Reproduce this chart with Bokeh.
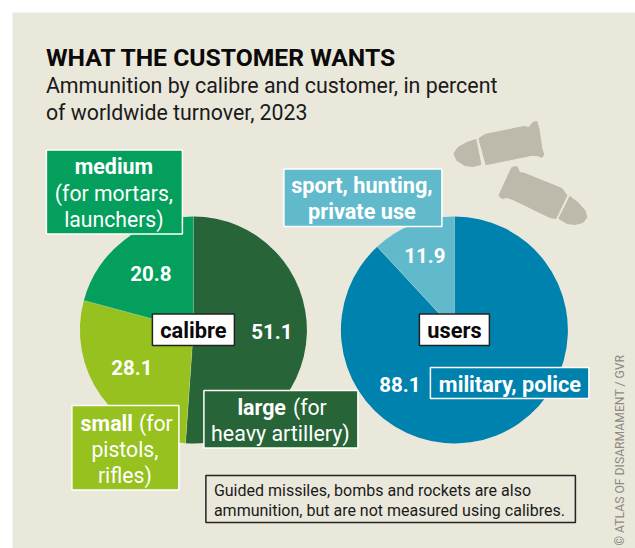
import math
from bokeh.plotting import figure
from bokeh.models import Range1d
from bokeh.embed import file_html
from bokeh.resources import INLINE
from bokeh.core.properties import value

# --- data
calibre_names = ["large", "small", "medium"]
calibre_values = [51.1, 28.1, 20.8]
users_names = ["military, police", "sport, hunting, private use"]
users_values = [88.1, 11.9]

# --- style
FONT = "Roboto"
BG = "#EAE8DB"
DARK = "#276539"
LIME = "#96C11E"
GREEN = "#049F5C"
BLUE = "#0082AF"
LIGHT = "#60BACB"
SHELL = "#BDBAAB"
calibre_colors = [DARK, LIME, GREEN]
users_colors = [BLUE, LIGHT]

W, H = 635, 548
PAGE_H = 548
p = figure(width=W, height=H, x_range=Range1d(0.6, 635.6), y_range=Range1d(0, 548),
           output_backend="svg", toolbar_location=None, min_border=0,
           background_fill_color="white", border_fill_color="white", outline_line_color=None)
p.axis.visible = False
p.grid.visible = False

def Y(py):
    return PAGE_H - py

def box(x0, x1, y0, y1, fill, line, lw=1.5):
    p.quad(left=[x0], right=[x1], top=[Y(y0)], bottom=[Y(y1)], fill_color=fill,
           line_color=line, line_width=lw)

def txt(x, y, s, size, color="white", bold=False, align="center", angle=0):
    p.text(x=[x], y=[Y(y)], text=[s], text_font=value(FONT), text_font_size=f"{size}px",
           text_color=color, text_align=align, text_baseline="middle",
           text_font_style="bold" if bold else "normal", angle=angle)

def pie(cx, cy, r, values, colors):
    total = sum(values)
    cum = 0.0
    angles = []
    for v, c in zip(values, colors):
        a0 = math.pi / 2 - 2 * math.pi * cum / total
        cum += v
        a1 = math.pi / 2 - 2 * math.pi * cum / total
        angles.append(a0)
        p.wedge(x=[cx], y=[Y(cy)], radius=r, start_angle=a0, end_angle=a1, direction="clock",
                fill_color=c, line_color=None)
    # faint seams between the slices
    for a in angles:
        p.segment(x0=[cx], y0=[Y(cy)], x1=[cx + r * math.cos(a)], y1=[Y(cy) + r * math.sin(a)],
                  line_color="white", line_alpha=0.25, line_width=0.8)

# panel
p.quad(left=[12.6], right=[640], top=[Y(12)], bottom=[0], fill_color=BG, line_color=None)

# bullets (decorative silhouettes, reference pixel outlines)
bullet_shapes = [
    [(476, 139), (467, 142), (458, 147), (454, 153), (457, 160), (465, 165), (473, 166), (481, 164)],
    [(479, 138), (485, 134), (524, 126), (529, 127), (533, 122), (537, 121), (539, 128), (542, 148),
     (544, 154), (542, 157), (537, 155), (531, 155), (492, 163), (486, 164)],
    [(570, 196), (578, 202), (585, 210), (587, 217), (583, 222), (575, 224), (567, 223), (559, 218)],
    [(567, 195), (562, 188), (525, 173), (520, 172), (517, 166), (512, 167), (509, 173), (499, 195),
     (502, 198), (507, 197), (513, 199), (550, 217), (556, 218)],
]
for s in bullet_shapes:
    p.patch([q[0] for q in s], [Y(q[1]) for q in s], fill_color=SHELL, line_color=SHELL, line_width=1)

# pies
R = 113.5
pie(193.5, 329.5, R, calibre_values, calibre_colors)
pie(454.5, 329.5, R, users_values, users_colors)

# title
txt(46, 57, "WHAT THE CUSTOMER WANTS", 24.7, "#0a0a0a", True, "left")
txt(46, 85, "Ammunition by calibre and customer, in percent", 21.4, "#1a1a1a", False, "left")
txt(46, 112, "of worldwide turnover, 2023", 21.3, "#1a1a1a", False, "left")

# label boxes
box(46.5, 182.5, 149.5, 233.5, GREEN, "white")
txt(114, 166, "medium", 21.4, bold=True)
txt(114, 193, "(for mortars,", 21.2)
txt(114, 219, "launchers)", 21.2)

box(284, 442, 168.5, 226, LIGHT, "white")
txt(362, 185, "sport, hunting,", 21.7, bold=True)
txt(362, 211, "private use", 21.7, bold=True)

box(72, 179, 405, 489.5, LIME, "white")
txt(133, 423, "small", 21.4, bold=True, align="right")
txt(139, 423, "(for", 21.2, align="left")
txt(125, 449, "pistols,", 21.2)
txt(125, 475, "rifles)", 21.2)

box(204, 358, 390, 447.5, DARK, "white")
txt(286, 407, "large", 21.4, bold=True, align="right")
txt(293, 407, "(for", 21.2, align="left")
txt(280.5, 433, "heavy artillery)", 21.4)

box(430.5, 589, 367, 398, BLUE, "white")
txt(510, 384, "military, police", 21.7, bold=True)

box(152.5, 234.5, 313.5, 345, "white", "#222222")
txt(193.5, 330, "calibre", 21.8, "#0a0a0a", True)
box(419.5, 489.5, 313.5, 345, "white", "#222222")
txt(454.5, 330, "users", 21.8, "#0a0a0a", True)

# values
txt(151, 273, f"{calibre_values[2]:.1f}", 20.5, bold=True)
txt(272, 331, f"{calibre_values[0]:.1f}", 20.5, bold=True)
txt(132, 367, f"{calibre_values[1]:.1f}", 20.5, bold=True)
txt(425, 255, f"{users_values[1]:.1f}", 20.5, bold=True)
txt(400, 384, f"{users_values[0]:.1f}", 20.5, bold=True)

# note
box(206, 575.5, 475, 522, BG, "#222222")
txt(214, 490, "Guided missiles, bombs and rockets are also", 16, "#1a1a1a", align="left")
txt(214, 510, "ammunition, but are not measured using calibres.", 16, "#1a1a1a", align="left")

# credit
p.text(x=[620], y=[Y(545)], text=["© ATLAS OF DISARMAMENT / GVR"], text_font=value(FONT),
       text_font_size="12.2px", text_color="#8b8b82", text_align="left", text_baseline="middle",
       angle=math.pi / 2)

open("out.html", "w").write(file_html(p, INLINE))
